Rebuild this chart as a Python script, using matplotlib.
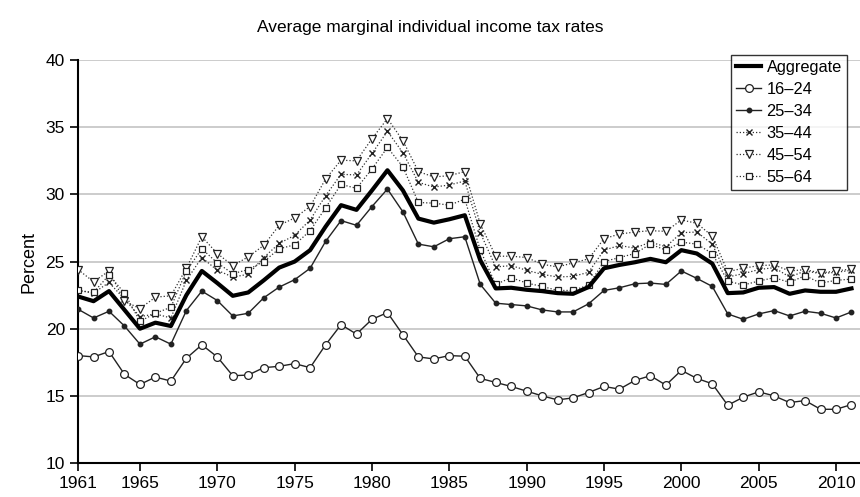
import numpy as np
import matplotlib
matplotlib.use("Agg")
import matplotlib.pyplot as plt

plt.rcParams["font.family"] = ["Liberation Sans", "DejaVu Sans"]

years = np.arange(1961, 2012)

aggregate = [22.4, 22.05, 22.8, 21.4, 20.0, 20.45, 20.2, 22.5, 24.3, 23.4,
             22.45, 22.7, 23.6, 24.55, 25.0, 25.85, 27.6, 29.2, 28.85, 30.3,
             31.8, 30.3, 28.2, 27.9, 28.15, 28.45, 25.1, 23.0, 23.05, 22.9,
             22.8, 22.65, 22.6, 23.1, 24.5, 24.75, 24.95, 25.2, 24.95, 25.85,
             25.6, 24.85, 22.65, 22.7, 23.05, 23.1, 22.6, 22.85, 22.75, 22.75, 23.0]

age_16_24 = [18.0, 17.9, 18.3, 16.6, 15.85, 16.4, 16.1, 17.8, 18.8, 17.9,
             16.5, 16.55, 17.1, 17.2, 17.4, 17.1, 18.8, 20.3, 19.6, 20.7,
             21.2, 19.55, 17.9, 17.75, 18.0, 17.95, 16.3, 16.0, 15.7, 15.35,
             15.0, 14.7, 14.85, 15.25, 15.7, 15.5, 16.15, 16.5, 15.8, 16.9,
             16.3, 15.9, 14.3, 14.9, 15.3, 15.0, 14.5, 14.65, 14.0, 14.0, 14.35]

age_25_34 = [21.45, 20.8, 21.3, 20.2, 18.85, 19.4, 18.85, 21.35, 22.8, 22.1,
             20.95, 21.15, 22.3, 23.1, 23.65, 24.5, 26.5, 28.05, 27.7, 29.1,
             30.4, 28.7, 26.3, 26.1, 26.7, 26.85, 23.3, 21.9, 21.8, 21.7,
             21.4, 21.25, 21.25, 21.85, 22.85, 23.05, 23.35, 23.4, 23.3, 24.3,
             23.75, 23.15, 21.1, 20.7, 21.1, 21.35, 20.95, 21.3, 21.15, 20.8, 21.25]

age_35_44 = [22.85, 22.65, 23.45, 22.2, 20.9, 21.1, 20.8, 23.6, 25.3, 24.35,
             23.85, 24.05, 25.3, 26.35, 26.95, 28.1, 29.9, 31.5, 31.45, 33.05,
             34.7, 33.1, 30.9, 30.55, 30.7, 31.0, 27.15, 24.6, 24.7, 24.35,
             24.05, 23.85, 23.9, 24.2, 25.85, 26.2, 26.0, 26.45, 26.1, 27.15,
             27.2, 26.3, 23.85, 24.1, 24.4, 24.55, 23.85, 24.3, 24.1, 24.2, 24.35]

age_45_54 = [24.4, 23.5, 24.3, 22.05, 21.5, 22.35, 22.45, 24.5, 26.85, 25.6,
             24.7, 25.35, 26.2, 27.7, 28.25, 29.1, 31.15, 32.55, 32.5, 34.15,
             35.65, 34.0, 31.7, 31.3, 31.4, 31.7, 27.8, 25.4, 25.4, 25.3,
             24.8, 24.6, 24.9, 25.2, 26.7, 27.05, 27.2, 27.3, 27.25, 28.1,
             27.85, 26.9, 24.25, 24.5, 24.7, 24.75, 24.3, 24.4, 24.15, 24.3, 24.45]

age_55_64 = [22.85, 22.7, 24.0, 22.65, 20.55, 21.15, 21.6, 24.3, 25.95, 24.9,
             24.1, 24.4, 25.0, 25.95, 26.25, 27.3, 29.0, 30.75, 30.45, 31.9,
             33.5, 32.05, 29.4, 29.35, 29.2, 29.65, 25.85, 23.3, 23.8, 23.4,
             23.15, 22.85, 22.85, 23.25, 25.0, 25.3, 25.6, 26.3, 25.85, 26.45,
             26.3, 25.6, 23.55, 23.25, 23.55, 23.8, 23.45, 23.95, 23.4, 23.6, 23.7]

xtick_years = [1961, 1965, 1970, 1975, 1980, 1985, 1990, 1995, 2000, 2005, 2010]

fig = plt.figure(figsize=(8.6, 4.97), dpi=100)
ax = fig.add_axes([0.0908, 0.0684, 0.9092, 0.8106])

dot = (0, (1, 1.6))
ax.plot(years, aggregate, color="black", lw=3.0, label="Aggregate", zorder=5)
ax.plot(years, age_16_24, color="#222222", lw=1.0, marker="o", ms=5.6,
        mfc="white", mec="#222222", mew=0.9, label="16\u201324", zorder=4)
ax.plot(years, age_25_34, color="#222222", lw=1.0, marker="o", ms=3.2,
        mfc="#222222", mec="#222222", label="25\u201334", zorder=4)
ax.plot(years, age_35_44, color="#333333", lw=0.9, ls=dot, marker="x", ms=4.0,
        mec="#222222", mew=1.0, label="35\u201344", zorder=3)
ax.plot(years, age_45_54, color="#333333", lw=0.9, ls=dot, marker="v", ms=5.6,
        mfc="white", mec="#222222", mew=0.9, label="45\u201354", zorder=3)
ax.plot(years, age_55_64, color="#333333", lw=0.9, ls=dot, marker="s", ms=3.8,
        mfc="white", mec="#222222", mew=0.9, label="55\u201364", zorder=3)

ax.set_xlim(1961, 2011.55)
ax.set_ylim(10, 40)
ax.set_yticks([10, 15, 20, 25, 30, 35, 40])
ax.set_xticks(xtick_years)
ax.tick_params(axis="both", direction="out", length=6, width=1.2,
               labelsize=12.5, colors="black")
for y in [15, 20, 25, 30, 35, 40]:
    ax.axhline(y, color="#cccccc", lw=1.4, zorder=0)
for side in ["top", "right"]:
    ax.spines[side].set_visible(False)
ax.spines["left"].set_linewidth(1.5)
ax.spines["bottom"].set_linewidth(1.5)
ax.set_ylabel("Percent", fontsize=13, labelpad=6)

fig.suptitle("Average marginal individual income tax rates", fontsize=12.5,
             x=0.5, y=0.96)

leg = ax.legend(loc="upper right", bbox_to_anchor=(0.983, 1.012), fontsize=11.8,
                frameon=True, fancybox=False, edgecolor="black",
                handlelength=1.5, handletextpad=0.35, labelspacing=0.42,
                borderpad=0.3, borderaxespad=0.0)
leg.get_frame().set_linewidth(1.0)

fig.savefig("out.png", dpi=100)
